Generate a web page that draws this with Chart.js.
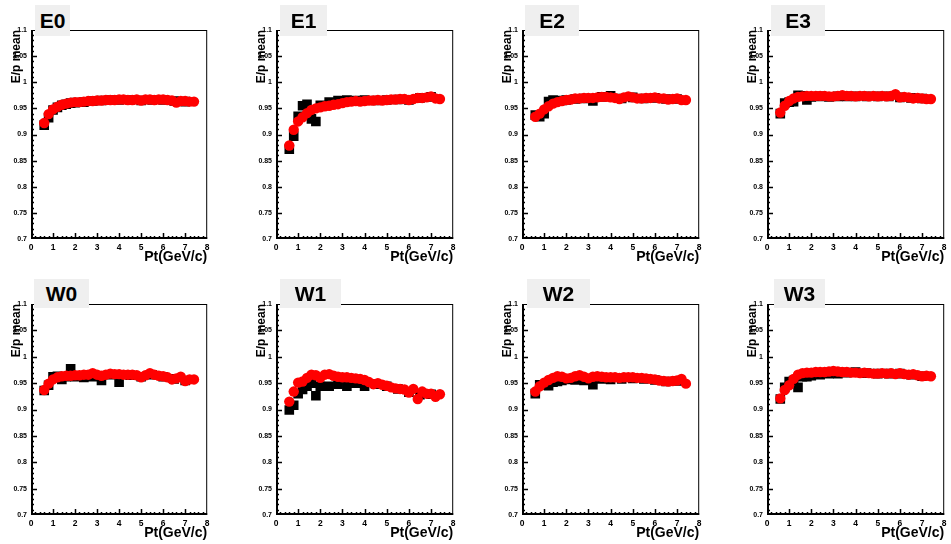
<!DOCTYPE html>
<html>
<head>
<meta charset="utf-8">
<script src="https://cdn.jsdelivr.net/npm/chart.js@4/dist/chart.umd.min.js"></script>
<style>
  body { margin: 0; width: 951px; height: 544px; overflow: hidden; background: #fff; position: relative; font-family: 'Liberation Sans', Arial, sans-serif; }
  canvas { position: absolute; }
  .pad { position: absolute; background: #efefef; color: #000; font-weight: bold; font-size: 21px; text-align: center; z-index: 2; }
</style>
</head>
<body>
<script>
const panelNames = ['E0', 'E1', 'E2', 'E3', 'W0', 'W1', 'W2', 'W3'];

const ptRed = [0.6, 0.8, 1.0, 1.2, 1.4, 1.6, 1.8, 2.0, 2.2, 2.4, 2.6, 2.8, 3.0, 3.2, 3.4, 3.6, 3.8, 4.0,
  4.2, 4.4, 4.6, 4.8, 5.0, 5.2, 5.4, 5.6, 5.8, 6.0, 6.2, 6.4, 6.6, 6.8, 7.0, 7.2, 7.4];
const ptBlack = [0.6, 0.8, 1.0, 1.2, 1.4, 1.6, 1.8, 2.0, 2.4, 2.8, 3.2, 3.6, 4.0, 4.5, 5.0, 5.5, 6.0, 6.5, 7.0];

// red points
const e0Red = [0.922, 0.939, 0.948, 0.953, 0.957, 0.959, 0.961, 0.962, 0.962, 0.963, 0.964, 0.964, 0.965, 0.965, 0.966, 0.966, 0.966, 0.967,
  0.967, 0.966, 0.966, 0.967, 0.965, 0.967, 0.967, 0.966, 0.967, 0.967, 0.966, 0.965, 0.961, 0.964, 0.964, 0.963, 0.963];
const e1Red = [0.879, 0.909, 0.925, 0.933, 0.941, 0.947, 0.950, 0.952, 0.954, 0.955, 0.957, 0.958, 0.960, 0.962, 0.963, 0.964, 0.963, 0.964,
  0.965, 0.965, 0.966, 0.965, 0.966, 0.967, 0.967, 0.968, 0.968, 0.966, 0.968, 0.970, 0.970, 0.971, 0.973, 0.969, 0.968];
const e2Red = [0.934, 0.940, 0.948, 0.954, 0.959, 0.962, 0.964, 0.966, 0.967, 0.969, 0.969, 0.970, 0.970, 0.970, 0.971, 0.972, 0.972, 0.971,
  0.970, 0.968, 0.971, 0.973, 0.971, 0.969, 0.969, 0.970, 0.970, 0.971, 0.969, 0.969, 0.967, 0.968, 0.969, 0.966, 0.966];
const e3Red = [0.942, 0.955, 0.964, 0.969, 0.972, 0.973, 0.974, 0.974, 0.974, 0.974, 0.974, 0.973, 0.973, 0.974, 0.975, 0.974, 0.974, 0.973,
  0.974, 0.974, 0.973, 0.974, 0.973, 0.974, 0.973, 0.974, 0.977, 0.971, 0.972, 0.971, 0.969, 0.970, 0.969, 0.968, 0.968];
const w0Red = [0.937, 0.949, 0.957, 0.961, 0.963, 0.964, 0.964, 0.965, 0.965, 0.966, 0.966, 0.969, 0.966, 0.964, 0.966, 0.968, 0.967, 0.967,
  0.966, 0.966, 0.966, 0.965, 0.961, 0.965, 0.969, 0.966, 0.964, 0.963, 0.961, 0.957, 0.959, 0.962, 0.954, 0.957, 0.957];
const w1Red = [0.915, 0.934, 0.951, 0.953, 0.960, 0.966, 0.965, 0.960, 0.966, 0.967, 0.964, 0.962, 0.961, 0.961, 0.960, 0.959, 0.958, 0.956,
  0.952, 0.948, 0.950, 0.947, 0.945, 0.942, 0.940, 0.939, 0.938, 0.932, 0.939, 0.920, 0.934, 0.930, 0.930, 0.924, 0.929];
const w2Red = [0.934, 0.944, 0.951, 0.956, 0.960, 0.963, 0.962, 0.959, 0.960, 0.963, 0.965, 0.962, 0.959, 0.962, 0.963, 0.962, 0.961, 0.961,
  0.961, 0.960, 0.961, 0.961, 0.961, 0.960, 0.960, 0.959, 0.958, 0.957, 0.955, 0.954, 0.953, 0.954, 0.955, 0.958, 0.949];
const w3Red = [0.921, 0.937, 0.946, 0.958, 0.966, 0.969, 0.970, 0.970, 0.971, 0.971, 0.971, 0.972, 0.973, 0.972, 0.971, 0.971, 0.970, 0.970,
  0.969, 0.970, 0.969, 0.968, 0.968, 0.969, 0.968, 0.969, 0.967, 0.969, 0.967, 0.966, 0.967, 0.965, 0.963, 0.964, 0.963];

// black squares
const e0Black = [0.918, 0.932, 0.947, 0.952, 0.956, 0.958, 0.960, 0.961, 0.962, 0.964, 0.965, 0.966, 0.966, 0.966, 0.965, 0.966, 0.966, 0.964, 0.963];
const e1Black = [0.872, 0.897, 0.935, 0.955, 0.958, 0.930, 0.925, 0.956, 0.962, 0.965, 0.966, 0.965, 0.966, 0.965, 0.966, 0.967, 0.966, 0.970, 0.972];
const e2Black = [0.937, 0.934, 0.940, 0.963, 0.966, 0.964, 0.965, 0.966, 0.968, 0.969, 0.964, 0.972, 0.974, 0.969, 0.971, 0.969, 0.970, 0.968, 0.968];
const e3Black = [0.940, 0.960, 0.962, 0.963, 0.975, 0.974, 0.966, 0.972, 0.973, 0.972, 0.973, 0.973, 0.973, 0.973, 0.973, 0.973, 0.971, 0.970, 0.969];
const w0Black = [0.936, 0.946, 0.962, 0.963, 0.957, 0.962, 0.977, 0.962, 0.961, 0.962, 0.955, 0.966, 0.952, 0.965, 0.962, 0.966, 0.962, 0.958, 0.955];
const w1Black = [0.899, 0.908, 0.930, 0.938, 0.944, 0.950, 0.926, 0.944, 0.944, 0.948, 0.944, 0.950, 0.944, 0.948, 0.944, 0.939, 0.933, 0.928, 0.929];
const w2Black = [0.930, 0.947, 0.947, 0.945, 0.952, 0.953, 0.955, 0.957, 0.956, 0.955, 0.947, 0.958, 0.957, 0.958, 0.959, 0.958, 0.956, 0.953, 0.954];
const w3Black = [0.920, 0.942, 0.953, 0.955, 0.942, 0.962, 0.962, 0.964, 0.966, 0.968, 0.968, 0.970, 0.971, 0.969, 0.968, 0.968, 0.968, 0.966, 0.963];

const redSeries = [e0Red, e1Red, e2Red, e3Red, w0Red, w1Red, w2Red, w3Red];
const blackSeries = [e0Black, e1Black, e2Black, e3Black, w0Black, w1Black, w2Black, w3Black];

// frame of each pad: left, top, width, height  /  title box: left, top, width, height
const frames = [
  [31, 30, 180, 209], [276, 30, 181, 209], [522, 30, 181, 209], [767, 30, 181, 209],
  [31, 304, 180, 211], [276, 304, 181, 211], [522, 304, 181, 211], [767, 304, 181, 211]
];
const boxes = [
  [35, 5, 35, 31], [280, 5, 47, 31], [525, 5, 54, 31], [771, 5, 54, 31],
  [34, 279, 55, 29], [280, 279, 61, 29], [527, 279, 63, 29], [774, 279, 51, 29]
];

Chart.defaults.font.family = "'Liberation Sans', Arial, sans-serif";
Chart.defaults.color = '#000';

// ROOT style frame with ticks pointing inwards
const rootFrame = {
  id: 'rootFrame',
  afterDraw(chart) {
    const { ctx, chartArea: a, scales: { x, y } } = chart;
    ctx.save();
    ctx.strokeStyle = '#000';
    ctx.lineWidth = 1;
    ctx.strokeRect(a.left + 0.5, a.top + 0.5, a.right - a.left - 1, a.bottom - a.top - 1);
    ctx.lineWidth = 2;
    ctx.beginPath();
    ctx.moveTo(a.left + 1, a.top);
    ctx.lineTo(a.left + 1, a.bottom - 1);
    ctx.lineTo(a.right, a.bottom - 1);
    ctx.stroke();
    ctx.lineWidth = 1.5;
    ctx.beginPath();
    for (let i = 1; i < 40; i++) {
      const px = Math.round(x.getPixelForValue(i * 0.2)) + 0.5;
      const len = i % 5 === 0 ? 6 : 3;
      ctx.moveTo(px, a.bottom);
      ctx.lineTo(px, a.bottom - len);
    }
    for (let i = 1; i < 40; i++) {
      const py = Math.round(y.getPixelForValue(0.7 + i * 0.01)) + 0.5;
      const len = i % 5 === 0 ? 6 : 3;
      ctx.moveTo(a.left, py);
      ctx.lineTo(a.left + len, py);
    }
    ctx.stroke();
    ctx.restore();
  }
};

panelNames.forEach((name, i) => {
  const [fl, ft, fw, fh] = frames[i];
  const canvas = document.createElement('canvas');
  canvas.width = fw + 31 + 3;
  canvas.height = fh + 30 + 30;
  canvas.style.left = (fl - 31) + 'px';
  canvas.style.top = (ft - 30) + 'px';
  document.body.appendChild(canvas);

  const [bl, bt, bw, bh] = boxes[i];
  const pad = document.createElement('div');
  pad.className = 'pad';
  pad.textContent = name;
  pad.style.left = bl + 'px';
  pad.style.top = bt + 'px';
  pad.style.width = bw + 'px';
  pad.style.height = bh + 'px';
  pad.style.lineHeight = bh + 'px';
  document.body.appendChild(pad);

  new Chart(canvas.getContext('2d'), {
    type: 'scatter',
    data: {
      datasets: [
        {
          label: 'fit',
          data: ptRed.map((p, k) => ({ x: p, y: redSeries[i][k] })),
          backgroundColor: '#ff0000',
          borderColor: '#ff0000',
          pointRadius: 5.2,
          borderWidth: 0
        },
        {
          label: 'data',
          data: ptBlack.map((p, k) => ({ x: p, y: blackSeries[i][k] })),
          backgroundColor: '#000',
          borderColor: '#000',
          pointStyle: 'rect',
          pointRadius: 6.8,
          borderWidth: 0
        }
      ]
    },
    options: {
      responsive: false,
      animation: false,
      layout: { padding: { left: 9, top: 30, right: 3, bottom: 3 } },
      plugins: { legend: { display: false }, tooltip: { enabled: false } },
      scales: {
        x: {
          type: 'linear',
          min: 0,
          max: 8,
          grid: { display: false, drawTicks: false },
          border: { display: false },
          ticks: { stepSize: 1, autoSkip: false, maxRotation: 0, padding: 4, font: { size: 8.5, weight: 'bold' } },
          title: { display: true, text: 'Pt(GeV/c)', align: 'end', padding: 0, font: { size: 14, weight: 'bold' } },
          afterFit: (scale) => { scale.height = 27; }
        },
        y: {
          min: 0.7,
          max: 1.1,
          grid: { display: false, drawTicks: false },
          border: { display: false },
          ticks: { stepSize: 0.05, autoSkip: false, padding: 4, font: { size: 7, weight: 'bold' },
            callback: (v) => String(+v.toFixed(2)) },
          title: { display: true, text: 'E/p mean', align: 'end', padding: 0, font: { size: 12, weight: 'bold' } },
          afterFit: (scale) => { scale.width = 22; }
        }
      }
    },
    plugins: [rootFrame]
  });
});
</script>
</body>
</html>
